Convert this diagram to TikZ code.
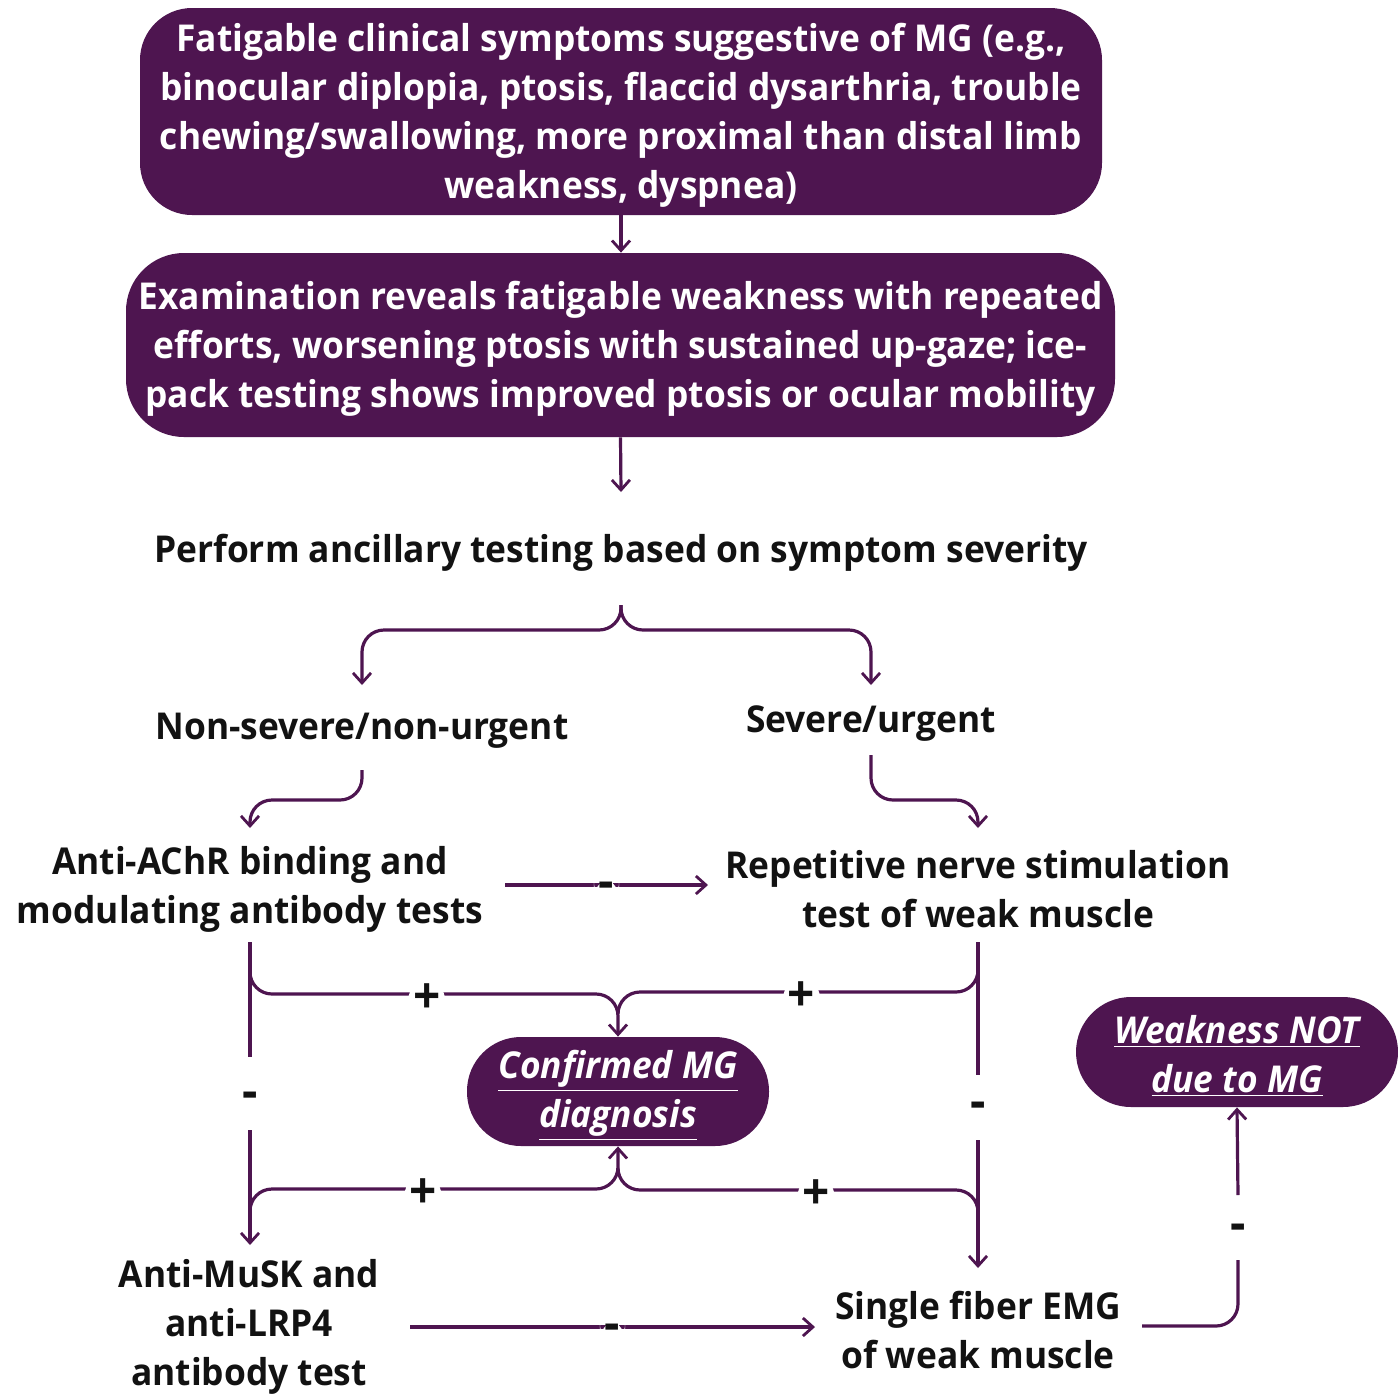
\documentclass[tikz,border=0pt]{standalone}
\usepackage{fontspec}
\setmainfont{Open Sans}[FakeStretch=0.955]
\usetikzlibrary{arrows.meta}
\definecolor{mgp}{RGB}{78,21,80}
\definecolor{ink}{RGB}{18,18,18}
\newcommand\mgfont{\fontsize{18.5}{24.5}\selectfont\bfseries}
\tikzset{
  pbox/.style={fill=mgp,inner sep=0pt},
  wtxt/.style={text=white,inner sep=0pt,align=center,font=\mgfont,yshift=-2pt},
  txt/.style={text=ink,inner sep=0pt,align=center,font=\mgfont,yshift=-2pt},
  ln/.style={draw=mgp,line width=1.6pt,rounded corners=11pt},
  arr/.style={ln,-{Straight Barb[length=5pt,width=9pt,line width=1.4pt]}},
  sgn/.style={text=ink,fill=white,inner sep=2.5pt,font=\fontsize{25}{26}\selectfont\bfseries,yshift=-2.5pt}
}
\begin{document}
\begin{tikzpicture}[x=0.5pt,y=-0.5pt]
\useasboundingbox (0,0) rectangle (1398,1393);
\fill[white] (0,0) rectangle (1398,1393);

% boxes
\node[pbox,minimum width=481pt,minimum height=103.5pt,rounded corners=26pt] (top) at (621,111.5) {};
\node[wtxt] (topT) at (top)
 {Fatigable clinical symptoms suggestive of MG (e.g.,\\binocular diplopia, ptosis, flaccid dysarthria, trouble\\chewing/swallowing, more proximal than distal limb\\weakness, dyspnea)};
\node[pbox,minimum width=494.5pt,minimum height=92pt,rounded corners=29pt] (exam) at (620.5,345) {};
\node[wtxt] (examT) at (exam)
 {Examination reveals fatigable weakness with repeated\\efforts, worsening ptosis with sustained up-gaze; ice-\\pack testing shows improved ptosis or ocular mobility};
\node[pbox,minimum width=151pt,minimum height=54.5pt,rounded corners=27pt] (conf) at (618,1091.5) {};
\node[wtxt] (confT) at (conf)
 {\itshape\underline{Confirmed MG}\\\itshape\underline{diagnosis}};
\node[pbox,minimum width=161pt,minimum height=55pt,rounded corners=27.5pt] (notmg) at (1237,1052) {};
\node[wtxt] (notmgT) at (notmg)
 {\itshape\underline{Weakness NOT}\\\itshape\underline{due to MG}};

% texts
\node[txt] (perform) at (621,549) {Perform ancillary testing based on symptom severity};
\node[txt] (nons) at (362,727) {Non-severe/non-urgent};
\node[txt] (sev) at (871,720) {Severe/urgent};
\node[txt] (achr) at (250,885) {Anti-AChR binding and\\modulating antibody tests};
\node[txt] (rns) at (978,885) {Repetitive nerve stimulation\\test of weak muscle};
\node[txt] (musk) at (249,1323) {Anti-MuSK and\\anti-LRP4\\antibody test};
\node[txt] (sfemg) at (978,1326) {Single fiber EMG\\of weak muscle};

% connector end points
\coordinate (pA) at (621,492);
\coordinate (brc) at (621,605);
\coordinate (nonsT) at (362,685);
\coordinate (sevT) at (871,685);
\coordinate (nonsB) at (362,770);
\coordinate (sevB) at (871,755);
\coordinate (achrT) at (250,828);
\coordinate (rnsT) at (978,828);
\coordinate (achrR) at (505,885);
\coordinate (rnsL) at (708,885);
\coordinate (achrB) at (250,942);
\coordinate (rnsB) at (978,942);
\coordinate (muskT) at (250,1245);
\coordinate (sfemgT) at (978,1268);
\coordinate (muskR) at (410,1327);
\coordinate (sfemgL) at (815,1327);
\coordinate (sfemgR) at (1142,1326);

% top flow
\draw[arr] (top.south) -- (top.south |- exam.north);
\draw[arr] (exam.south) -- (pA);
\draw[arr] (brc) -- (621,630) -- (nonsT |- 0,630) -- (nonsT);
\draw[arr] (brc) -- (621,630) -- (sevT |- 0,630) -- (sevT);
\draw[arr] (nonsB) -- (362,800) -- (250,800) -- (achrT);
\draw[arr] (sevB) -- (871,800) -- (978,800) -- (rnsT);

% anti-AChR -> RNS
\draw[arr] (achrR) -- node[sgn]{-} (rnsL);

% left vertical
\draw[ln] (achrB) -- (250,1057);
\node[sgn,fill=none] (mL) at (250,1095) {-};
\draw[arr] (250,1130) -- (muskT);
% right vertical
\draw[ln] (rnsB) -- (978,1075);
\node[sgn,fill=none] (mR) at (978,1105) {-};
\draw[arr] (978,1140) -- (sfemgT);

% upper + branches
\draw[arr] (250,955) -- (250,994) -- node[sgn,pos=0.48]{+} (conf.north |- 0,994) -- (conf.north);
\draw[ln] (978,955) -- (978,992) -- node[sgn,pos=0.49]{+} (conf.north |- 0,992) -- (618,1012);
% lower + branches
\draw[arr] (250,1225) -- (250,1189) -- node[sgn,pos=0.47]{+} (conf.south |- 0,1189) -- (conf.south);
\draw[ln] (978,1225) -- (978,1190) -- node[sgn,pos=0.45]{+} (conf.south |- 0,1190) -- (618,1168);

% bottom flow
\draw[arr] (muskR) -- node[sgn]{-} (sfemgL);
\draw[ln] (sfemgR) -- (1238,1326) -- (1238,1260);
\node[sgn,fill=none] (mW) at (1238,1227) {-};
\draw[arr] (1238,1195) -- (notmg.south);
\end{tikzpicture}
\end{document}
